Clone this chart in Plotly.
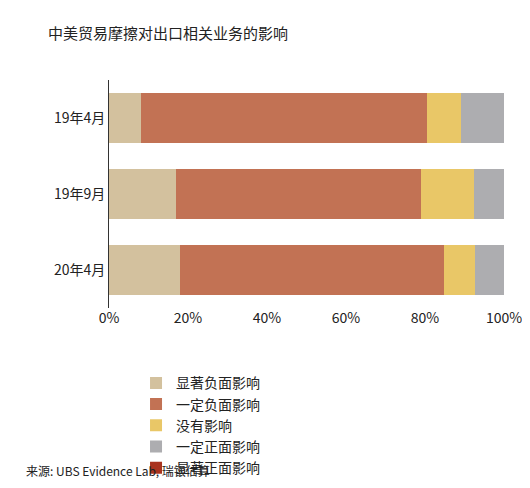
import plotly.graph_objects as go

categories = ["19年4月", "19年9月", "20年4月"]
series_names = ["显著负面影响", "一定负面影响", "没有影响", "一定正面影响", "显著正面影响"]
sig_neg = [8.0, 17.0, 18.0]
some_neg = [72.5, 62.0, 66.8]
no_eff = [8.5, 13.4, 7.9]
some_pos = [11.0, 7.6, 7.3]
sig_pos = [0.0, 0.0, 0.0]
colors = ["#D3C19E", "#C27254", "#E9C767", "#ADADB0", "#A8321E"]
ticks = [0, 20, 40, 60, 80, 100]

fig = go.Figure()
for name, vals, c in zip(series_names, [sig_neg, some_neg, no_eff, some_pos, sig_pos], colors):
    fig.add_trace(go.Bar(y=categories, x=vals, name=name, orientation="h",
                         marker=dict(color=c, line=dict(width=0)), width=0.66))

fig.update_layout(
    barmode="stack", width=530, height=488, plot_bgcolor="white", paper_bgcolor="white",
    margin=dict(l=101, r=34, t=72, b=188),
    font=dict(family="Noto Sans CJK SC", size=14, color="#222"),
    xaxis=dict(range=[0, 100], tickvals=ticks, ticktext=[f"{t}%" for t in ticks],
               showgrid=False, zeroline=False, ticks="", tickfont=dict(size=14),
               automargin=False),
    yaxis=dict(autorange="reversed", showline=True, linecolor="#333", linewidth=1,
               ticks="", ticklen=0, tickfont=dict(size=14), automargin=False),
    legend=dict(orientation="h", x=0.115, xanchor="left", y=-0.26, yanchor="top",
                entrywidth=150, entrywidthmode="pixels", traceorder="normal",
                font=dict(size=14), itemwidth=30, tracegroupgap=0),
    showlegend=True,
)
fig.add_annotation(text="中美贸易摩擦对出口相关业务的影响", xref="paper", yref="paper",
                   x=-0.16, y=1.0, yshift=60, xanchor="left", yanchor="top",
                   showarrow=False, font=dict(size=15))
fig.add_annotation(text="来源: UBS Evidence Lab, 瑞银估算", xref="paper", yref="paper",
                   x=-0.215, y=0, yshift=-162, xanchor="left", yanchor="middle",
                   showarrow=False, font=dict(size=12))
fig.write_html("out.html")
